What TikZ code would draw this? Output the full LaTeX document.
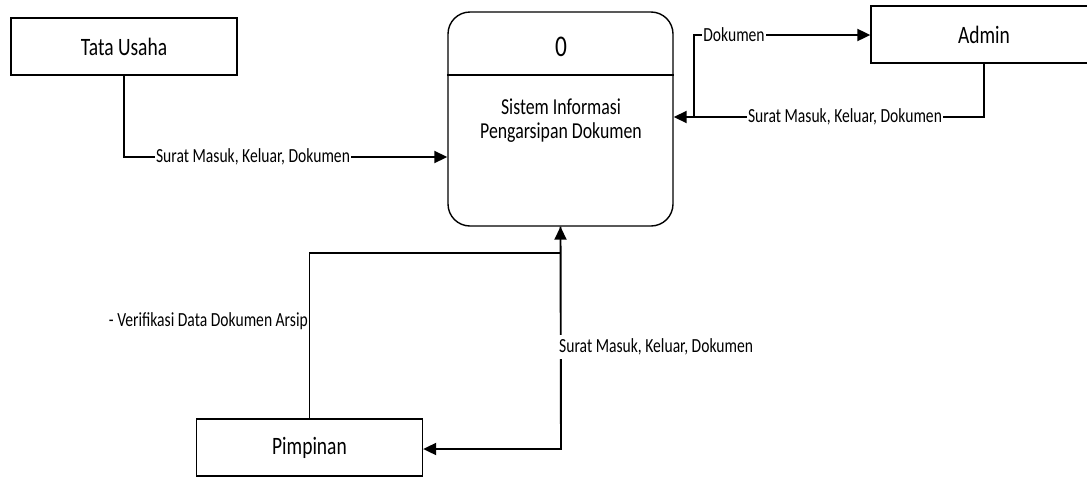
\documentclass[tikz,border=0pt]{standalone}
\usepackage{fontspec}
\setmainfont[FakeStretch=0.78]{Carlito}
\usetikzlibrary{arrows.meta}
\tikzset{
  entity/.style={draw=black, line width=1.3pt, fill=white, minimum width=226pt, minimum height=57pt, inner sep=0pt, font=\fontsize{25}{28}\selectfont},
  procbox/.style={draw=black, line width=1.4pt, fill=white, rounded corners=22pt, minimum width=225pt, minimum height=214pt, inner sep=0pt},
  flow/.style={draw=black, line width=1.9pt, -{Triangle[length=13pt,width=12pt]}},
  lbl/.style={fill=white, inner sep=1pt, font=\fontsize{20}{22}\selectfont},
  ptext/.style={align=center, inner sep=0pt, font=\fontsize{22.8}{24}\selectfont},
}
\begin{document}
\begin{tikzpicture}[x=1pt,y=-1pt]
\useasboundingbox (0,0) rectangle (1087,477);
% entities
\node[entity] (tu) at (124,46.5) {Tata Usaha};
\node[entity] (ad) at (984,34.5) {Admin};
\node[entity] (pim) at (309.5,447.5) {Pimpinan};
% process
\node[procbox] (proc) at (560.5,119) {};
\draw[line width=1.5pt] (proc.west |- {(0,75)}) -- (proc.east |- {(0,75)});
\node[inner sep=0pt, font=\fontsize{30}{32}\selectfont] (pid) at (561,47) {0};
\node[ptext] (pname) at (561,121) {Sistem Informasi\\Pengarsipan Dokumen};
% coordinates
\coordinate (c1) at (694,117);
\coordinate (c2) at (310,253);
\coordinate (c3) at (561,449);
% flows
\draw[flow] (tu.south) |- (proc.west |- {(0,157)});
\node[lbl] (l1) at (253,157) {Surat Masuk, Keluar, Dokumen};
\draw[flow] (ad.south) |- (proc.east |- c1);
\node[lbl] (l2) at (845,117) {Surat Masuk, Keluar, Dokumen};
\draw[flow] (c1) |- (ad.west |- {(0,35)});
\node[lbl] (l3) at (734,35) {Dokumen};
\draw[flow] (pim.north) |- (c2 -| proc.south) -- (proc.south);
\node[lbl, anchor=east, fill=none, inner sep=0pt] (l4) at (308,321) {- Verifikasi Data Dokumen Arsip};
\draw[flow] (proc.south) -- (c3) -- (pim.east |- c3);
\node[lbl, anchor=west, inner sep=0pt, inner ysep=4pt] (l5) at (559,347) {Surat Masuk, Keluar, Dokumen};
\end{tikzpicture}
\end{document}
